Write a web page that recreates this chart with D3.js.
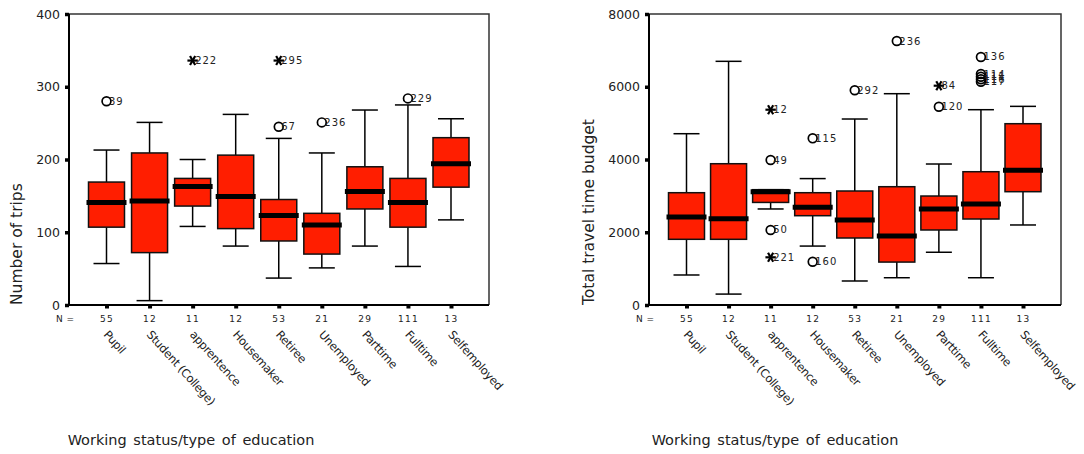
<!DOCTYPE html>
<html>
<head>
<meta charset="utf-8">
<script src="https://cdnjs.cloudflare.com/ajax/libs/d3/7.8.5/d3.min.js"></script>
<style>
  html, body { margin: 0; padding: 0; background: #fff; }
  svg { display: block; }
  text { font-family: "DejaVu Sans", Verdana, sans-serif; fill: #222; }
</style>
</head>
<body>
<svg id="chart" width="1084" height="454"></svg>
<script>
// ---------- data ----------
const categories = ["Pupil", "Student (College)", "apprentence", "Housemaker", "Retiree",
                    "Unemployed", "Parttime", "Fulltime", "Selfemployed"];
const nCounts = [55, 12, 11, 12, 53, 21, 29, 111, 13];
const xTitle = "Working status/type of education";

// Chart 1: Number of trips
const tripsTicks = [0, 100, 200, 300, 400];
const tripsWhiskerLow  = [57, 6, 108, 81, 37, 51, 81, 53, 117];
const tripsQ1          = [107, 72, 136, 105, 88, 70, 132, 107, 162];
const tripsMedian      = [141, 143, 163, 149, 123, 110, 156, 141, 194];
const tripsQ3          = [169, 209, 174, 206, 145, 126, 190, 174, 230];
const tripsWhiskerHigh = [213, 251, 200, 262, 229, 209, 268, 275, 256];
const tripsOutCat   = [0, 2, 4, 4, 5, 7];
const tripsOutValue = [280, 336, 336, 245, 251, 284];
const tripsOutLabel = ["39", "222", "295", "67", "236", "229"];
const tripsOutKind  = ["o", "*", "*", "o", "o", "o"];

// Chart 2: Total travel time budget
const budgetTicks = [0, 2000, 4000, 6000, 8000];
const budgetWhiskerLow  = [825, 300, 2640, 1620, 660, 750, 1450, 750, 2200];
const budgetQ1          = [1806, 1806, 2820, 2455, 1842, 1180, 2062, 2364, 3115];
const budgetMedian      = [2419, 2373, 3110, 2686, 2337, 1897, 2639, 2777, 3703];
const budgetQ3          = [3087, 3884, 3170, 3087, 3134, 3252, 2996, 3664, 4984];
const budgetWhiskerHigh = [4709, 6699, 3170, 3475, 5113, 5809, 3876, 5369, 5461];
const budgetOutCat   = [2, 2, 2, 2, 3, 3, 4, 5, 6, 6, 7, 7, 7, 7, 7];
const budgetOutValue = [5369, 3986, 2062, 1311, 4582, 1190, 5902, 7257, 6029, 5451, 6818, 6350, 6275, 6205, 6139];
const budgetOutLabel = ["12", "49", "50", "221", "115", "160", "292", "236", "84", "120", "136", "114", "111", "116", "117"];
const budgetOutKind  = ["*", "o", "o", "*", "o", "o", "o", "o", "*", "o", "o", "o", "o", "o", "o"];

// ---------- drawing ----------
const svg = d3.select("#chart");
const BOX_FILL = "#ff1e00";

function drawChart(opt) {
  const g = svg.append("g");
  const x = d3.scalePoint().domain(categories).range([opt.x0 + 37.5, opt.x1 - 38]);
  const y = d3.scaleLinear().domain(opt.domain).range([opt.y1, opt.y0]);
  const boxW = 36, medW = 40, capW = 26;

  // frame (top/right)
  g.append("path")
    .attr("d", `M${opt.x0},${opt.y0}H${opt.x1}V${opt.y1}`)
    .attr("fill", "none").attr("stroke", "#333").attr("stroke-width", 1.5);

  // y axis
  const yAxis = g.append("g").attr("transform", `translate(${opt.x0},0)`)
    .call(d3.axisLeft(y).tickValues(opt.ticks).tickSize(4).tickPadding(5).tickFormat(d3.format("d")));
  yAxis.select(".domain").remove();
  yAxis.selectAll(".tick line").attr("stroke", "#000").attr("stroke-width", 3.5);
  yAxis.selectAll(".tick text").attr("font-size", 12.5).attr("fill", "#222")
    .attr("font-family", "DejaVu Sans, sans-serif");

  // x axis with N counts
  const xAxis = g.append("g").attr("transform", `translate(0,${opt.y1})`)
    .call(d3.axisBottom(x).tickSize(3.5).tickPadding(7).tickFormat((d, i) => nCounts[i]));
  xAxis.select(".domain").remove();
  xAxis.selectAll(".tick line").attr("stroke", "#000").attr("stroke-width", 4);
  xAxis.selectAll(".tick text").attr("font-size", 9).attr("fill", "#222")
    .attr("letter-spacing", 1.3).attr("font-family", "DejaVu Sans, sans-serif");

  g.append("text").attr("x", opt.x0 - 13).attr("y", opt.y1 + 16.5)
    .attr("font-size", 9).attr("letter-spacing", 0.5).text("N =");

  // axis lines left/bottom
  g.append("path")
    .attr("d", `M${opt.x0},${opt.y0}V${opt.y1}H${opt.x1}`)
    .attr("fill", "none").attr("stroke", "#000").attr("stroke-width", 2);

  // category labels
  g.selectAll("text.cat").data(categories).join("text")
    .attr("class", "cat")
    .attr("transform", d => `translate(${x(d) - 3.5},${opt.y1 + 30}) rotate(48)`)
    .attr("font-size", 11.5).attr("letter-spacing", -0.3)
    .text(d => d);

  // whiskers and boxes
  const boxes = g.append("g");
  categories.forEach((c, i) => {
    const cx = x(c);
    boxes.append("line").attr("x1", cx).attr("x2", cx)
      .attr("y1", y(opt.wHigh[i])).attr("y2", y(opt.q3[i]))
      .attr("stroke", "#000").attr("stroke-width", 1.5);
    boxes.append("line").attr("x1", cx).attr("x2", cx)
      .attr("y1", y(opt.q1[i])).attr("y2", y(opt.wLow[i]))
      .attr("stroke", "#000").attr("stroke-width", 1.5);
    boxes.append("line").attr("x1", cx - capW / 2).attr("x2", cx + capW / 2)
      .attr("y1", y(opt.wHigh[i])).attr("y2", y(opt.wHigh[i]))
      .attr("stroke", "#000").attr("stroke-width", 1.5);
    boxes.append("line").attr("x1", cx - capW / 2).attr("x2", cx + capW / 2)
      .attr("y1", y(opt.wLow[i])).attr("y2", y(opt.wLow[i]))
      .attr("stroke", "#000").attr("stroke-width", 1.5);
    boxes.append("rect")
      .attr("x", cx - boxW / 2).attr("width", boxW)
      .attr("y", y(opt.q3[i])).attr("height", y(opt.q1[i]) - y(opt.q3[i]))
      .attr("fill", BOX_FILL).attr("stroke", "#111").attr("stroke-width", 1.5);
    boxes.append("line").attr("x1", cx - medW / 2).attr("x2", cx + medW / 2)
      .attr("y1", y(opt.med[i])).attr("y2", y(opt.med[i]))
      .attr("stroke", "#000").attr("stroke-width", 5);
  });

  // outliers
  const outs = g.append("g");
  opt.outCat.forEach((ci, k) => {
    const cx = x(categories[ci]);
    const cy = y(opt.outValue[k]);
    if (opt.outKind[k] === "o") {
      outs.append("circle").attr("cx", cx).attr("cy", cy).attr("r", 4.4)
        .attr("fill", "none").attr("stroke", "#000").attr("stroke-width", 1.7);
    } else {
      const r = 5.2;
      [0, 60, 120].forEach(a => {
        const rad = a * Math.PI / 180;
        outs.append("line")
          .attr("x1", cx - r * Math.cos(rad)).attr("y1", cy - r * Math.sin(rad))
          .attr("x2", cx + r * Math.cos(rad)).attr("y2", cy + r * Math.sin(rad))
          .attr("stroke", "#000").attr("stroke-width", 2.2);
      });
    }
    outs.append("text").attr("x", cx + 2.5).attr("y", cy + 3.5)
      .attr("font-size", 10).attr("letter-spacing", 1).text(opt.outLabel[k]);
  });

  // titles
  g.append("text")
    .attr("transform", `translate(${opt.yTitleX},${opt.y1}) rotate(-90)`)
    .attr("font-size", 15.5).attr("text-anchor", "start")
    .text(opt.yTitle);
  g.append("text").attr("x", opt.xTitleX).attr("y", 445)
    .attr("font-size", 14.5).attr("text-anchor", "middle").attr("word-spacing", 2)
    .text(xTitle);
}

drawChart({
  x0: 69, x1: 489, y0: 14, y1: 305, domain: [0, 400], ticks: tripsTicks,
  wLow: tripsWhiskerLow, q1: tripsQ1, med: tripsMedian, q3: tripsQ3, wHigh: tripsWhiskerHigh,
  outCat: tripsOutCat, outValue: tripsOutValue, outLabel: tripsOutLabel, outKind: tripsOutKind,
  yTitle: "Number of trips", yTitleX: 22, xTitleX: 191
});
drawChart({
  x0: 649, x1: 1061, y0: 14, y1: 305, domain: [0, 8000], ticks: budgetTicks,
  wLow: budgetWhiskerLow, q1: budgetQ1, med: budgetMedian, q3: budgetQ3, wHigh: budgetWhiskerHigh,
  outCat: budgetOutCat, outValue: budgetOutValue, outLabel: budgetOutLabel, outKind: budgetOutKind,
  yTitle: "Total travel time budget", yTitleX: 594, xTitleX: 775
});
</script>
</body>
</html>
